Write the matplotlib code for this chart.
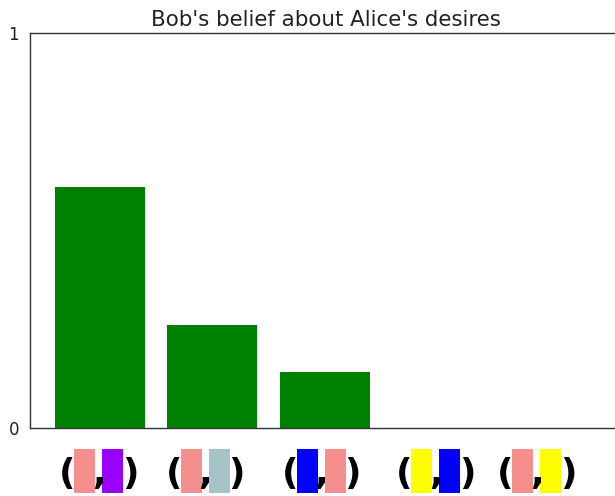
import matplotlib
matplotlib.use("Agg")
import matplotlib.pyplot as plt
from matplotlib.patches import Rectangle

# Belief distribution over Alice's colour-pair desires
categories = ["pink-purple", "pink-grey", "blue-pink", "yellow-blue", "pink-yellow"]
beliefs = [0.61, 0.26, 0.14, 0.0, 0.0]
pair_colors = [
    ("#F48F8E", "#9900FF"),
    ("#F48F8E", "#A6C4C8"),
    ("#0000FF", "#F48F8E"),
    ("#FFFF00", "#0000FF"),
    ("#F48F8E", "#FFFF00"),
]
ytick_values = [0, 1]
ytick_labels = ["0", "1"]
title = "Bob's belief about Alice's desires"

W, H = 615, 496
fig = plt.figure(figsize=(W / 100, H / 100), dpi=100)

# axes extends slightly beyond the right edge of the canvas
ax_l, ax_r, ax_t, ax_b = 30, 622, 32.7, 427.7
ax = fig.add_axes([ax_l / W, 1 - ax_b / H, (ax_r - ax_l) / W, (ax_b - ax_t) / H])

x = list(range(len(categories)))
ax.bar(x, beliefs, width=0.8, color="green")
ax.set_xlim(-0.622, 4.64)
ax.set_ylim(0, 1)
ax.set_yticks(ytick_values)
ax.set_yticklabels(ytick_labels, fontsize=12, color="#222222")
ax.set_xticks([])
ax.tick_params(axis="y", length=0, pad=8)
ax.spines["right"].set_visible(False)
for s in ("left", "top", "bottom"):
    ax.spines[s].set_linewidth(1.0)
    ax.spines[s].set_color("#333333")


def px(xp, yp):
    return xp / W, 1 - yp / H


fx, fy = px((ax_l + ax_r) / 2, 26)
fig.text(fx, fy, title, ha="center", va="baseline", fontsize=15.4, color="#222222")

# colour-pair glyphs under each bar: "(■,■)"
label_offsets = [-1.4, -7.1, -3.6, -1.7, -13.1]
rect_w, rect_h, gap = 21, 44, 3.5
rect_top = 449
baseline = 484
for i, (c1, c2) in enumerate(pair_colors):
    cx = ax.transData.transform((x[i], 0))[0] + label_offsets[i]
    for left, col in ((cx - gap - rect_w, c1), (cx + gap, c2)):
        rx, ry = px(left, rect_top + rect_h)
        fig.patches.append(Rectangle((rx, ry), rect_w / W, rect_h / H,
                                     transform=fig.transFigure, color=col,
                                     linewidth=0, zorder=1))
    for dx, ch in ((-31.5, "("), (0, ","), (31.5, ")")):
        tx, ty = px(cx + dx, baseline)
        fig.text(tx, ty, ch, ha="center", va="baseline", fontsize=26,
                 fontweight="bold", color="black", zorder=3)

fig.savefig("out.png", dpi=100)
